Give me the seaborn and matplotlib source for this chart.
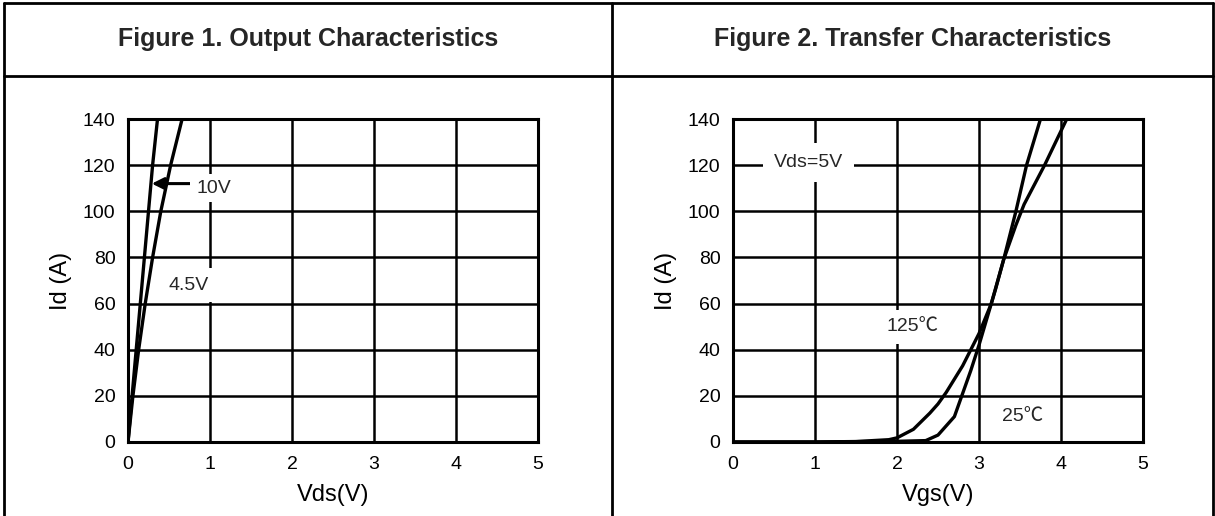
import matplotlib
matplotlib.use("Agg")
import matplotlib.pyplot as plt
import seaborn as sns
import pandas as pd
from matplotlib.lines import Line2D

# ---------------- data ----------------
# Figure 1: Output characteristics, Id (A) vs Vds (V)
id_levels = [0, 20, 40, 60, 80, 100, 120, 140]
vds_10v = [0, 0.05, 0.10, 0.15, 0.20, 0.25, 0.30, 0.36]
vds_4v5 = [0, 0.06, 0.13, 0.21, 0.30, 0.40, 0.52, 0.66]

# Figure 2: Transfer characteristics, Id (A) vs Vgs (V)
vgs_25c = [0, 1.0, 2.0, 2.35, 2.5, 2.7, 2.8, 2.9, 3.0, 3.1, 3.2, 3.3, 3.45, 3.58, 3.75]
id_25c = [0, 0, 0.3, 0.6, 3, 11, 21, 31, 42, 54, 66, 79, 100, 120, 140]
vgs_125c = [0, 1.0, 1.5, 1.9, 2.0, 2.2, 2.4, 2.5, 2.6, 2.8, 3.0, 3.15, 3.3, 3.45, 3.55, 3.8, 4.07]
id_125c = [0, 0, 0.2, 1, 1.8, 5.5, 12.5, 16.5, 21.5, 33, 47, 60, 79, 94, 103, 120, 140]

x_ticks = [0, 1, 2, 3, 4, 5]
y_ticks = [0, 20, 40, 60, 80, 100, 120, 140]
titles = ["Figure 1. Output Characteristics", "Figure 2. Transfer Characteristics"]
x_labels = ["Vds(V)", "Vgs(V)"]
y_label = "Id (A)"

# ---------------- style ----------------
sns.set_style("white")
plt.rcParams["font.family"] = ["Liberation Sans", "Noto Sans CJK SC", "DejaVu Sans"]

W, H = 1215, 516
fig = plt.figure(figsize=(W / 100, H / 100), dpi=100)
fig.patch.set_facecolor("white")

ax1 = fig.add_axes([128 / W, 74 / H, 410 / W, 323 / H])
ax2 = fig.add_axes([733 / W, 74 / H, 410 / W, 323 / H])

CURVE_LW = 2.4
GRID_LW = 1.8
TXT = 14

df1a = pd.DataFrame({"Vds": vds_10v, "Id": id_levels})
df1b = pd.DataFrame({"Vds": vds_4v5, "Id": id_levels})
sns.lineplot(data=df1a, x="Vds", y="Id", sort=False, estimator=None, color="black", lw=CURVE_LW, ax=ax1)
sns.lineplot(data=df1b, x="Vds", y="Id", sort=False, estimator=None, color="black", lw=CURVE_LW, ax=ax1)

df2a = pd.DataFrame({"Vgs": vgs_25c, "Id": id_25c})
df2b = pd.DataFrame({"Vgs": vgs_125c, "Id": id_125c})
sns.lineplot(data=df2a, x="Vgs", y="Id", sort=False, estimator=None, color="black", lw=CURVE_LW, ax=ax2)
sns.lineplot(data=df2b, x="Vgs", y="Id", sort=False, estimator=None, color="black", lw=CURVE_LW, ax=ax2)

for ax, xl in zip([ax1, ax2], x_labels):
    ax.set_xlim(0, 5)
    ax.set_ylim(0, 140)
    ax.set_xticks(x_ticks)
    ax.set_yticks(y_ticks)
    ax.set_axisbelow(True)
    ax.grid(True, color="black", lw=GRID_LW)
    for sp in ax.spines.values():
        sp.set_visible(True)
        sp.set_color("black")
        sp.set_linewidth(2.2)
    ax.tick_params(axis="both", length=0, labelsize=TXT, colors="black")
    ax.tick_params(axis="x", pad=10)
    ax.tick_params(axis="y", pad=9)
    ax.set_xlabel(xl, fontsize=17, labelpad=8, color="black")
    ax.set_ylabel(y_label, fontsize=17, labelpad=8, color="black")

# annotations, figure 1
ax1.annotate("", xy=(0.29, 112), xytext=(0.76, 112),
             arrowprops=dict(arrowstyle="-|>", color="black", lw=2.2,
                             mutation_scale=18, shrinkA=0, shrinkB=0))
ax1.text(0.83, 110, "10V", fontsize=TXT, ha="left", va="center",
         bbox=dict(facecolor="white", edgecolor="none", pad=4))
ax1.text(0.49, 68, "4.5V", fontsize=TXT, ha="left", va="center",
         bbox=dict(facecolor="white", edgecolor="none", pad=6))

# annotations, figure 2
ax2.text(0.5, 121, "Vds=5V", fontsize=TXT, ha="left", va="center",
         bbox=dict(facecolor="white", edgecolor="none", pad=8))
ax2.text(1.87, 50, "125\u2103", fontsize=TXT, ha="left", va="center",
         bbox=dict(facecolor="white", edgecolor="none", pad=6))
ax2.text(3.28, 11, "25\u2103", fontsize=TXT, ha="left", va="center",
         bbox=dict(facecolor="white", edgecolor="none", pad=3))

# table borders
BORDER_LW = 2.0
def fline(x0, y0, x1, y1):
    fig.add_artist(Line2D([x0 / W, x1 / W], [1 - y0 / H, 1 - y1 / H],
                          transform=fig.transFigure, color="black", lw=BORDER_LW))

fline(4, 3, 1213, 3)
fline(4, 76, 1213, 76)
fline(4, 3, 4, H)
fline(612, 3, 612, H)
fline(1213, 3, 1213, H)

fig.text((4 + 612) / 2 / W, 1 - 39 / H, titles[0], fontsize=18, fontweight="bold",
         ha="center", va="center")
fig.text((612 + 1213) / 2 / W, 1 - 39 / H, titles[1], fontsize=18, fontweight="bold",
         ha="center", va="center")

fig.savefig("out.png", dpi=100, facecolor="white")
